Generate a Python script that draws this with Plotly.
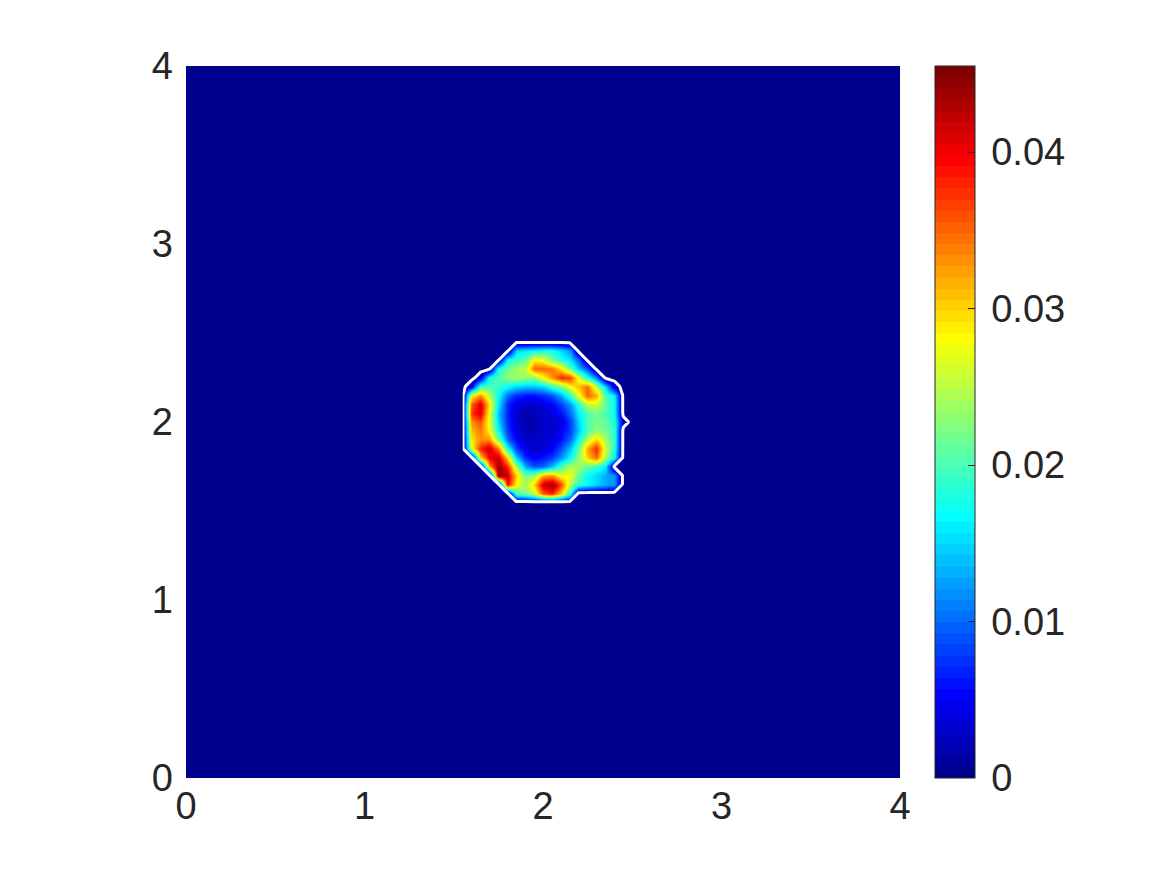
import numpy as np
import plotly.graph_objects as go

# grid nodes around the ring (everything else is 0)
x_nodes = [1.55, 1.60, 1.65, 1.70, 1.75, 1.80, 1.85, 1.90, 1.95, 2.00,
           2.05, 2.10, 2.15, 2.20, 2.25, 2.30, 2.35, 2.40, 2.45, 2.50]
y_nodes = [1.50, 1.55, 1.60, 1.65, 1.70, 1.75, 1.80, 1.85, 1.90, 1.95, 2.00,
           2.05, 2.10, 2.15, 2.20, 2.25, 2.30, 2.35, 2.40, 2.45, 2.50]

# values in units of 1e-3, rows go from y=1.50 up to y=2.50
z_milli = [
    [0, 0, 0, 0, 0, 0, 0, 0, 0, 0, 0, 0, 0, 0, 0, 0, 0, 0, 0, 0],
    [0, 0, 0, 0, 0, 0, 0, 0, 0, 0, 0, 0, 0, 0, 0, 0, 0, 0, 0, 0],
    [0, 0, 0, 0, 0, 0, 20, 22, 26, 36, 38, 30, 18, 0, 0, 0, 0, 0, 0, 0],
    [0, 0, 0, 0, 0, 40, 28, 24, 30, 42, 44, 36, 24, 19, 17, 15, 13, 12, 0, 0],
    [0, 0, 0, 0, 45, 42, 30, 22, 24, 32, 33, 27, 28, 21, 17, 15, 13, 12, 0, 0],
    [0, 0, 0, 32, 44, 38, 24, 13, 9, 10, 14, 20, 25, 24, 21, 19, 16, 0, 0, 0],
    [0, 0, 30, 40, 42, 30, 14, 7, 5, 6, 8, 12, 17, 23, 30, 35, 24, 17, 0, 0],
    [0, 27, 38, 42, 34, 18, 8, 4, 3, 4, 5, 9, 14, 21, 32, 38, 26, 18, 0, 0],
    [0, 29, 33, 33, 22, 10, 5, 3, 3, 3, 4, 6, 10, 17, 25, 30, 24, 19, 0, 0],
    [0, 31, 34, 28, 17, 8, 4, 2, 2, 3, 3, 5, 8, 14, 20, 23, 22, 19, 0, 0],
    [0, 33, 36, 27, 15, 7, 3, 2, 2, 3, 3, 4, 8, 15, 20, 22, 21, 18, 3, 0],
    [0, 37, 41, 27, 14, 7, 3, 2, 2, 3, 4, 6, 10, 16, 20, 22, 20, 17, 0, 0],
    [0, 35, 42, 29, 16, 7, 4, 3, 3, 4, 5, 8, 12, 18, 25, 26, 21, 17, 0, 0],
    [0, 28, 33, 25, 17, 10, 7, 6, 6, 7, 9, 13, 19, 27, 35, 32, 20, 16, 0, 0],
    [0, 4, 20, 20, 19, 17, 15, 14, 14, 15, 19, 22, 28, 31, 35, 25, 15, 3, 0, 0],
    [0, 0, 3, 18, 20, 23, 24, 23, 23, 28, 33, 38, 37, 27, 18, 11, 0, 0, 0, 0],
    [0, 0, 0, 0, 18, 21, 24, 25, 35, 35, 34, 29, 21, 14, 9, 0, 0, 0, 0, 0],
    [0, 0, 0, 0, 0, 17, 19, 21, 28, 27, 21, 18, 15, 10, 0, 0, 0, 0, 0, 0],
    [0, 0, 0, 0, 0, 0, 15, 16, 17, 18, 18, 15, 12, 0, 0, 0, 0, 0, 0, 0],
    [0, 0, 0, 0, 0, 0, 0, 0, 0, 0, 0, 0, 0, 0, 0, 0, 0, 0, 0, 0],
    [0, 0, 0, 0, 0, 0, 0, 0, 0, 0, 0, 0, 0, 0, 0, 0, 0, 0, 0, 0],
]
z = np.array(z_milli) * 1e-3

cb_ticks = [0, 0.01, 0.02, 0.03, 0.04]
cb_labels = ["0", "0.01", "0.02", "0.03", "0.04"]
axis_ticks = [0, 1, 2, 3, 4]
zmax = 0.0455
edge_level = 0.0012


def jet(m=64):
    # same construction as matlab's jet(m)
    n = int(np.ceil(m / 4))
    u = np.r_[np.arange(1, n + 1) / n, np.ones(n - 1), np.arange(n, 0, -1) / n]
    g = int(np.ceil(n / 2)) - (m % 4 == 1) + np.arange(1, len(u) + 1)
    r = g + n
    b = g - n
    g = g[g <= m]
    r = r[r <= m]
    b = b[b >= 1]
    J = np.zeros((m, 3))
    J[r - 1, 0] = u[:len(r)]
    J[g - 1, 1] = u[:len(g)]
    J[b - 1, 2] = u[len(u) - len(b):]
    return J


cmap = jet(64)
colorscale = []
for i, c in enumerate(cmap):
    col = "rgb(%d,%d,%d)" % tuple(np.round(c * 255))
    colorscale.append([i / 64, col])
    colorscale.append([(i + 1) / 64, col])
bg = colorscale[0][1]

txt = "#262626"
fnt = dict(family="Liberation Sans, Arial, Helvetica", size=38, color=txt)

fig = go.Figure()
fig.add_trace(go.Heatmap(
    x=x_nodes, y=y_nodes, z=z, zsmooth="best",
    colorscale=colorscale, zmin=0, zmax=zmax,
    colorbar=dict(
        x=1.049, xanchor="left", xpad=0, y=0.5, yanchor="middle", ypad=0,
        len=1, lenmode="fraction", thickness=40, thicknessmode="pixels",
        tickvals=cb_ticks, ticktext=["\u2009" + s for s in cb_labels],
        ticks="inside", ticklen=7,
        tickcolor=txt, outlinecolor=txt, outlinewidth=1,
        tickfont=fnt,
    ),
    hoverinfo="skip",
))
fig.add_trace(go.Contour(
    x=x_nodes, y=y_nodes, z=z, showscale=False,
    contours=dict(start=edge_level, end=edge_level, size=0.001, coloring="none"),
    line=dict(color="white", width=3, smoothing=0),
    hoverinfo="skip",
))

# page has an 8px body margin, so margins are 8px smaller on the left/top
fig.update_layout(
    width=1167, height=875,
    margin=dict(l=178, r=275, t=58, b=105),
    paper_bgcolor="white", plot_bgcolor=bg,
    font=fnt, showlegend=False,
)
fig.update_xaxes(range=[0, 4], tickvals=axis_ticks, showgrid=False, zeroline=False,
                 showline=False, ticks="", tickfont=fnt, ticklabelstandoff=2)
fig.update_yaxes(range=[0, 4], tickvals=axis_ticks, showgrid=False, zeroline=False,
                 showline=False, ticks="", tickfont=fnt, ticklabelstandoff=12)

fig.write_html("out.html")
